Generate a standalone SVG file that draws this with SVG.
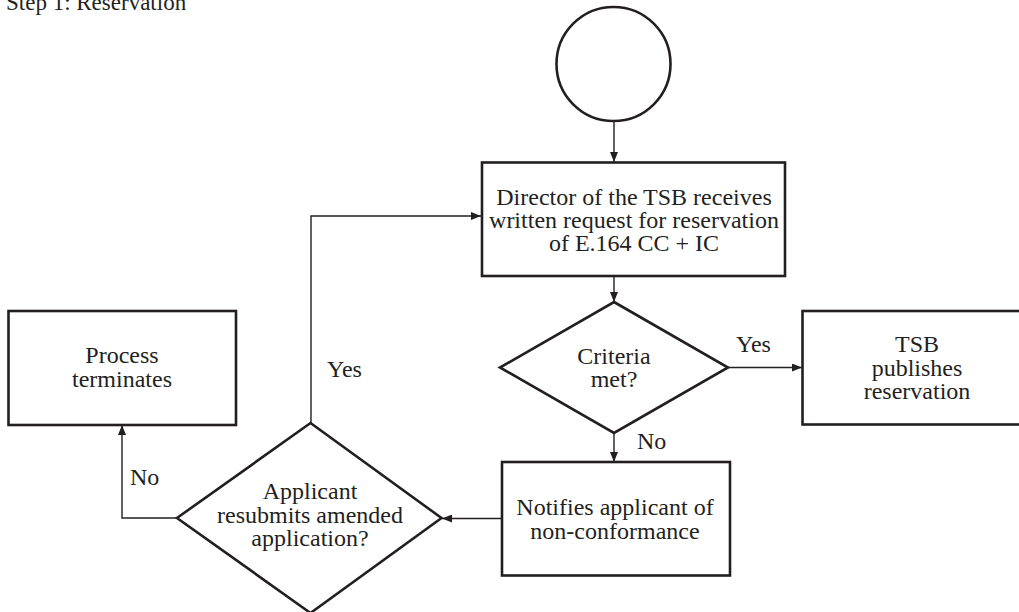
<svg xmlns="http://www.w3.org/2000/svg" width="1019" height="612" viewBox="0 0 1019 612">
<style>
.node{fill:#fff;stroke:#231f20;stroke-width:2.6}
.conn{fill:none;stroke:#231f20;stroke-width:1.4}
text{font-family:"Liberation Serif","Times New Roman",serif;font-size:24px;fill:#231f20;text-anchor:middle}
.lab{text-anchor:start}
</style>
<defs>
<marker id="ah" viewBox="0 0 10 8" refX="10" refY="4" markerWidth="10" markerHeight="8" markerUnits="userSpaceOnUse" orient="auto">
<path d="M0,0 L10,4 L0,8 Z" fill="#231f20"/>
</marker>
</defs>
<rect width="1019" height="612" fill="#fff"/>
<text class="lab" x="6" y="10" style="font-size:23px">Step 1: Reservation</text>
<g id="connectors">
<line class="conn" x1="614" y1="121" x2="614" y2="162" marker-end="url(#ah)"/>
<line class="conn" x1="614" y1="276" x2="614" y2="302" marker-end="url(#ah)"/>
<line class="conn" x1="728" y1="367.5" x2="802" y2="367.5" marker-end="url(#ah)"/>
<line class="conn" x1="614" y1="433" x2="614" y2="462" marker-end="url(#ah)"/>
<line class="conn" x1="502" y1="518.5" x2="442" y2="518.5" marker-end="url(#ah)"/>
<polyline class="conn" points="177,518 122,518 122,425" marker-end="url(#ah)"/>
<polyline class="conn" points="311,423 311,216 481,216" marker-end="url(#ah)"/>
<text class="lab" x="736" y="352">Yes</text>
<text class="lab" x="637" y="449">No</text>
<text class="lab" x="130" y="485">No</text>
<text class="lab" x="327" y="377">Yes</text>
</g>
<g id="start">
<circle class="node" cx="613.5" cy="64" r="57"/>
</g>
<g id="director">
<rect class="node" x="482" y="162.5" width="303" height="113.5"/>
<text x="634" y="205">Director of the TSB receives</text>
<text x="634" y="228">written request for reservation</text>
<text x="634" y="251">of E.164 CC + IC</text>
</g>
<g id="criteria">
<polygon class="node" points="614,302 728,367.5 614,433 500,367.5"/>
<text x="614" y="364">Criteria</text>
<text x="614" y="387">met?</text>
</g>
<g id="publishes">
<rect class="node" x="802.5" y="311" width="230" height="113.5"/>
<text x="917" y="352">TSB</text>
<text x="917" y="375.5">publishes</text>
<text x="917" y="399">reservation</text>
</g>
<g id="notifies">
<rect class="node" x="502" y="462" width="228" height="113.5"/>
<text x="615" y="515">Notifies applicant of</text>
<text x="615" y="539">non-conformance</text>
</g>
<g id="resubmit">
<polygon class="node" points="310.5,423 441.5,518 310.5,613 177,518"/>
<text x="310" y="499">Applicant</text>
<text x="310" y="522.5">resubmits amended</text>
<text x="310" y="546">application?</text>
</g>
<g id="terminates">
<rect class="node" x="8.5" y="311" width="227.5" height="114"/>
<text x="122" y="363">Process</text>
<text x="122" y="387">terminates</text>
</g>
</svg>
